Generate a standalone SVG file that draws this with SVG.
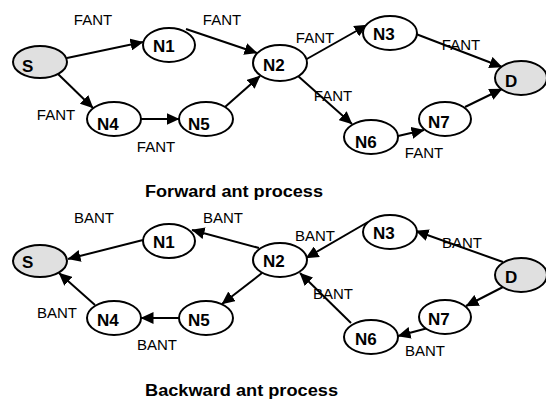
<svg xmlns="http://www.w3.org/2000/svg" width="546" height="400" viewBox="0 0 546 400">
<defs>
<marker id="ah" markerUnits="userSpaceOnUse" markerWidth="14" markerHeight="12" refX="12.5" refY="6" orient="auto">
<path d="M0,0 L13,6 L0,12 z" fill="#000"/>
</marker>
<style>
.n{fill:#fff;stroke:#000;stroke-width:2}
.g{fill:#e0e0e0;stroke:#000;stroke-width:2}
.t{font-family:"Liberation Sans",Arial,sans-serif;font-weight:bold;font-size:17px;fill:#000}
.l{font-family:"Liberation Sans",Arial,sans-serif;font-size:15px;fill:#000;text-anchor:middle}
.h{font-family:"Liberation Sans",Arial,sans-serif;font-weight:bold;font-size:16px;fill:#000}
.e{stroke:#000;stroke-width:2;fill:none;marker-end:url(#ah)}
</style>
</defs>
<rect width="546" height="400" fill="#fff"/>

<g id="connectors-forward">
<path class="e" d="M67,58 L143,42"/>
<path class="e" d="M58,74 L93,108"/>
<path class="e" d="M141,119 L179,119"/>
<path class="e" d="M225,107 L260,76"/>
<path class="e" d="M186,29 L257,53"/>
<path class="e" d="M305,60 L367,25"/>
<path class="e" d="M416,34 L502,67"/>
<path class="e" d="M298,76 L352,124"/>
<path class="e" d="M398,136 L424,130"/>
<path class="e" d="M465,107 L502,89"/>
</g>
<g id="labels-forward">
<text class="l" x="93" y="25">FANT</text>
<text class="l" x="222" y="25">FANT</text>
<text class="l" x="56" y="120">FANT</text>
<text class="l" x="156" y="152">FANT</text>
<text class="l" x="315" y="43">FANT</text>
<text class="l" x="461" y="50">FANT</text>
<text class="l" x="333" y="101">FANT</text>
<text class="l" x="424" y="158">FANT</text>
</g>

<g id="fS"><ellipse class="g" cx="40" cy="62" rx="27" ry="16"/><text class="t" x="22" y="72">S</text></g>
<g id="fN1"><ellipse class="n" cx="169" cy="45" rx="26" ry="17"/><text class="t" x="153" y="52">N1</text></g>
<g id="fN2"><ellipse class="n" cx="280" cy="63" rx="27" ry="18"/><text class="t" x="263" y="71">N2</text></g>
<g id="fN3"><ellipse class="n" cx="390" cy="33" rx="27" ry="17"/><text class="t" x="373" y="40">N3</text></g>
<g id="fD"><ellipse class="g" cx="521" cy="78" rx="26" ry="17"/><text class="t" x="505" y="87">D</text></g>
<g id="fN4"><ellipse class="n" cx="114" cy="119" rx="27" ry="17"/><text class="t" x="97" y="130">N4</text></g>
<g id="fN5"><ellipse class="n" cx="206" cy="119" rx="27" ry="17"/><text class="t" x="188" y="130">N5</text></g>
<g id="fN6"><ellipse class="n" cx="371" cy="137" rx="27" ry="17"/><text class="t" x="355" y="148">N6</text></g>
<g id="fN7"><ellipse class="n" cx="445" cy="119" rx="26" ry="17"/><text class="t" x="428" y="128">N7</text></g>

<text class="h" x="145" y="197" textLength="178" lengthAdjust="spacingAndGlyphs">Forward ant process</text>

<g id="connectors-backward">
<path class="e" d="M143,240 L68,259"/>
<path class="e" d="M95,305 L59,273"/>
<path class="e" d="M179,318 L141,318"/>
<path class="e" d="M262,273 L222,304"/>
<path class="e" d="M259,248 L192,230"/>
<path class="e" d="M368,222 L306,258"/>
<path class="e" d="M503,262 L416,231"/>
<path class="e" d="M351,323 L300,273"/>
<path class="e" d="M503,287 L466,306"/>
<path class="e" d="M428,328 L398,336"/>
</g>
<g id="labels-backward">
<text class="l" x="94" y="223">BANT</text>
<text class="l" x="223" y="223">BANT</text>
<text class="l" x="57" y="318">BANT</text>
<text class="l" x="157" y="350">BANT</text>
<text class="l" x="315" y="241">BANT</text>
<text class="l" x="462" y="248">BANT</text>
<text class="l" x="333" y="299">BANT</text>
<text class="l" x="425" y="356">BANT</text>
</g>

<g id="bS"><ellipse class="g" cx="40" cy="261" rx="27" ry="16"/><text class="t" x="22" y="268">S</text></g>
<g id="bN1"><ellipse class="n" cx="169" cy="241" rx="26" ry="17"/><text class="t" x="153" y="248">N1</text></g>
<g id="bN2"><ellipse class="n" cx="280" cy="260" rx="27" ry="17"/><text class="t" x="263" y="267">N2</text></g>
<g id="bN3"><ellipse class="n" cx="390" cy="232" rx="27" ry="17"/><text class="t" x="373" y="239">N3</text></g>
<g id="bD"><ellipse class="g" cx="521" cy="275" rx="26" ry="17"/><text class="t" x="505" y="283">D</text></g>
<g id="bN4"><ellipse class="n" cx="114" cy="318" rx="27" ry="17"/><text class="t" x="97" y="326">N4</text></g>
<g id="bN5"><ellipse class="n" cx="206" cy="318" rx="27" ry="17"/><text class="t" x="188" y="326">N5</text></g>
<g id="bN6"><ellipse class="n" cx="371" cy="337" rx="27" ry="17"/><text class="t" x="355" y="345">N6</text></g>
<g id="bN7"><ellipse class="n" cx="445" cy="317" rx="26" ry="17"/><text class="t" x="428" y="325">N7</text></g>

<text class="h" x="145" y="396" textLength="193" lengthAdjust="spacingAndGlyphs">Backward ant process</text>
</svg>
